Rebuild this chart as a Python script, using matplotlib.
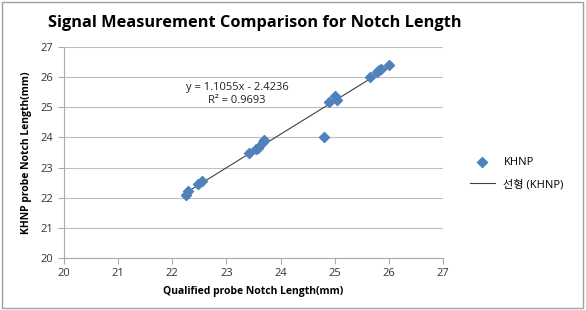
import numpy as np
import matplotlib.pyplot as plt
from matplotlib.patches import Rectangle

# data
qualified = [22.25, 22.30, 22.48, 22.55, 23.42, 23.55, 23.58, 23.68, 23.70,
             24.80, 24.90, 25.00, 25.05, 25.65, 25.78, 25.82, 25.85, 26.00]
khnp = [22.10, 22.22, 22.45, 22.57, 23.48, 23.62, 23.66, 23.85, 23.92,
        24.00, 25.17, 25.37, 25.26, 26.00, 26.18, 26.25, 26.27, 26.40]
x_ticks = [20, 21, 22, 23, 24, 25, 26, 27]
y_ticks = [20, 21, 22, 23, 24, 25, 26, 27]
eq_text = "y = 1.1055x - 2.4236\nR² = 0.9693"

plt.rcParams['font.family'] = ['Open Sans', 'Noto Sans CJK KR', 'DejaVu Sans']

fig = plt.figure(figsize=(5.86, 3.10), dpi=100)
ax = fig.add_axes([0.109, 0.168, 0.647, 0.680])

ax.scatter(qualified, khnp, marker='D', s=26, color='#4F81BD', zorder=3, label='KHNP')

# linear trendline like Excel
slope, icpt = np.polyfit(qualified, khnp, 1)
xs = np.array([min(qualified), max(qualified)])
ax.plot(xs, slope * xs + icpt, color='#404040', lw=0.8, zorder=2, label='선형 (KHNP)')

ax.text(23.2, 25.45, eq_text, fontsize=8, ha='center', va='center',
        linespacing=1.25, color='#222222')

ax.set_xlim(20, 27)
ax.set_ylim(20, 27)
ax.set_xticks(x_ticks)
ax.set_yticks(y_ticks)
ax.yaxis.grid(True, color='#BEBEBE', lw=0.8)
ax.set_axisbelow(True)
for s in ['top', 'right']:
    ax.spines[s].set_visible(False)
for s in ['left', 'bottom']:
    ax.spines[s].set_color('#AAAAAA')
ax.tick_params(colors='#AAAAAA', labelcolor='#333333', labelsize=8, length=4, direction='out')

ax.set_xlabel('Qualified probe Notch Length(mm)', fontsize=7.5, fontweight='bold', labelpad=5)
ax.set_ylabel('KHNP probe Notch Length(mm)', fontsize=7.5, fontweight='bold', labelpad=6)

fig.text(0.434, 0.925, 'Signal Measurement Comparison for Notch Length',
         fontsize=11.8, fontweight='bold', ha='center', va='center')

ax.legend(loc='center left', bbox_to_anchor=(1.045, 0.40), frameon=False,
          fontsize=8, handlelength=2.2, labelspacing=1.0)

# outer chart border
fig.patches.append(Rectangle((0.003, 0.005), 0.992, 0.99, transform=fig.transFigure,
                             fill=False, edgecolor='#A0A0A0', lw=1))

fig.savefig('out.png', dpi=100)
